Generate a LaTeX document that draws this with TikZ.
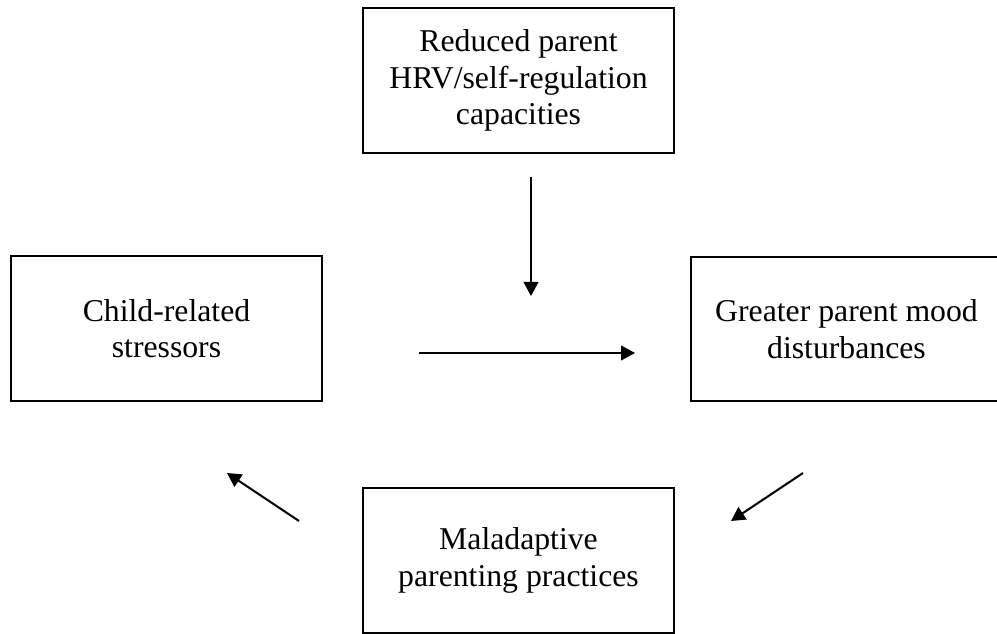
\documentclass[tikz,border=0pt]{standalone}
\usepackage{fontspec}
\setmainfont{Liberation Serif}
\usetikzlibrary{arrows.meta}
\begin{document}
\begin{tikzpicture}[x=0.75pt,y=-0.75pt,
  box/.style={draw=black,line width=1.5pt,minimum width=233pt,minimum height=108.5pt,
    align=center,inner sep=0pt,font=\fontsize{23.8}{27.5}\selectfont},
  conn/.style={line width=1.5pt,-{Triangle[length=10.5pt,width=11pt]}}]
\useasboundingbox (0,0) rectangle (997,634);
\clip (0,0) rectangle (997,634);
\fill[white] (0,0) rectangle (997,634);
\node[box] (top) at (518.5,80.5) {Reduced parent\\HRV/self-regulation\\capacities};
\node[box] (left) at (166.5,328.5) {Child-related\\stressors};
\node[box] (right) at (846.5,329) {Greater parent mood\\disturbances};
\node[box] (bottom) at (518.5,560.5) {Maladaptive\\parenting practices};
\coordinate (vA) at (531,177);
\coordinate (vB) at (531,296);
\coordinate (hA) at (419,353);
\coordinate (hB) at (635,353);
\coordinate (lA) at (299,521);
\coordinate (lB) at (227,473);
\coordinate (rA) at (803,473);
\coordinate (rB) at (731,521);
\draw[conn] (vA) -- (vB);
\draw[conn] (hA) -- (hB);
\draw[conn] (lA) -- (lB);
\draw[conn] (rA) -- (rB);
\end{tikzpicture}
\end{document}
